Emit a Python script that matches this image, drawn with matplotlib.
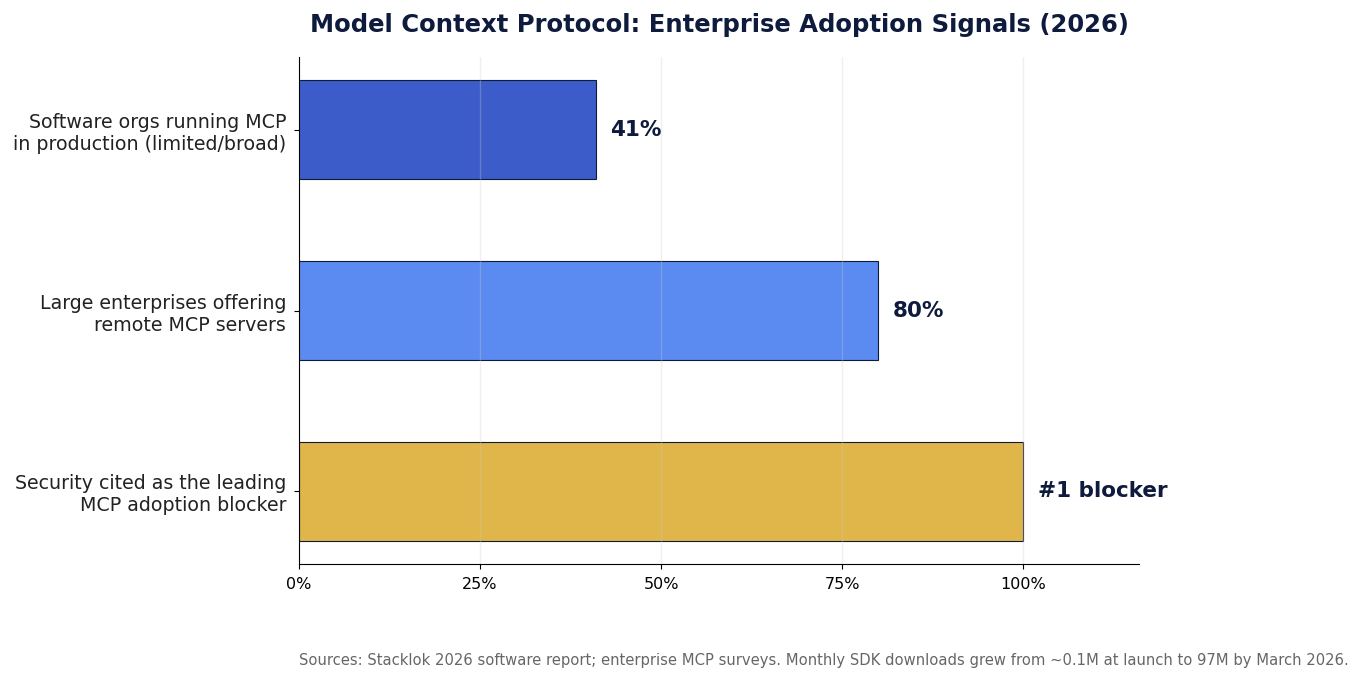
import matplotlib
matplotlib.use("Agg")
import matplotlib.pyplot as plt
from matplotlib.ticker import FuncFormatter

# Data
categories = [
    "Software orgs running MCP\nin production (limited/broad)",
    "Large enterprises offering\nremote MCP servers",
    "Security cited as the leading\nMCP adoption blocker",
]
values = [41, 80, 100]
value_labels = ["41%", "80%", "#1 blocker"]
bar_colors = ["#3b5cc9", "#5b8bf0", "#e0b64a"]

navy = "#0f1b3d"

fig = plt.figure(figsize=(13.61, 6.82), dpi=100)
ax = fig.add_axes([299 / 1361, 1 - 564 / 682, (1139 - 299) / 1361, (564 - 57) / 682])

ypos = list(range(len(categories)))
ax.barh(ypos, values, height=0.55, color=bar_colors, edgecolor=navy, linewidth=0.8)
ax.invert_yaxis()

for y, v, lab in zip(ypos, values, value_labels):
    ax.text(v + 2, y, lab, ha="left", va="center", fontsize=15.5,
            fontweight="bold", color=navy)

ax.set_xlim(0, 116)
ax.set_xticks([0, 25, 50, 75, 100])
ax.xaxis.set_major_formatter(FuncFormatter(lambda x, _: f"{x:.0f}%"))
ax.set_yticks(ypos)
ax.set_yticklabels(categories, fontsize=13.7, color="#222222")
ax.tick_params(axis="y", pad=5.7)
ax.tick_params(axis="x", labelsize=11.5, pad=6)
ax.grid(axis="x", color="#cccccc", alpha=0.3, linewidth=1)

ax.spines["top"].set_visible(False)
ax.spines["right"].set_visible(False)

fig.suptitle("Model Context Protocol: Enterprise Adoption Signals (2026)",
             x=719 / 1361, y=1 - 25 / 682, va="center", fontsize=17.5,
             fontweight="bold", color=navy)

fig.text(299 / 1361, 1 - 661 / 682,
         "Sources: Stacklok 2026 software report; enterprise MCP surveys. "
         "Monthly SDK downloads grew from ~0.1M at launch to 97M by March 2026.",
         ha="left", va="center", fontsize=10.63, color="#666666")

fig.savefig("out.png", dpi=100)
